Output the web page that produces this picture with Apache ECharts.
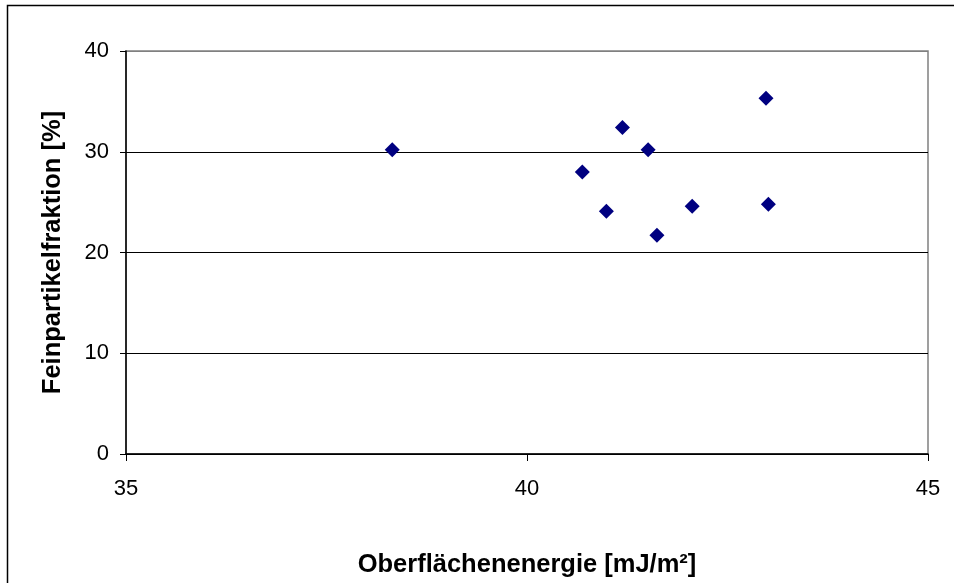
<!DOCTYPE html>
<html>
<head>
<meta charset="utf-8">
<script src="https://cdn.jsdelivr.net/npm/echarts@6/dist/echarts.min.js"></script>
<style>
html,body{margin:0;padding:0;background:#fff;}
#chart{width:954px;height:583px;}
</style>
</head>
<body>
<div id="chart"></div>
<script>
const surfaceEnergy = [38.32, 41.19, 41.51, 40.69, 40.99, 41.62, 42.06, 43.01, 42.98];
const fineFraction  = [30.2, 32.4, 30.2, 28.0, 24.1, 21.7, 24.6, 24.8, 35.3];
const xTicks = [35, 40, 45];
const yTicks = [0, 10, 20, 30, 40];
const xTitle = 'Oberflächenenergie [mJ/m²]';
const yTitle = 'Feinpartikelfraktion [%]';

const points = surfaceEnergy.map((x, i) => [x, fineFraction[i]]);
const chart = echarts.init(document.getElementById('chart'), null, {renderer: 'canvas'});
chart.setOption({
  animation: false,
  backgroundColor: '#fff',
  graphic: [{
    type: 'rect', silent: true, z: 100,
    shape: {x: 7.5, y: 5.5, width: 1000, height: 1000},
    style: {fill: 'none', stroke: '#000', lineWidth: 1.5}
  }],
  grid: {left: 126, right: 26, top: 51, bottom: 120, show: true, borderColor: '#808080', borderWidth: 1.5},
  xAxis: {
    type: 'value', min: xTicks[0], max: xTicks[xTicks.length - 1], interval: 5,
    name: xTitle, nameLocation: 'middle', nameGap: 98,
    nameTextStyle: {fontFamily: 'Liberation Sans', fontWeight: 'bold', fontSize: 25.5, color: '#000'},
    axisLine: {show: true, onZero: false, lineStyle: {color: '#000', width: 1.5}},
    axisTick: {show: true, length: 7, lineStyle: {color: '#000'}},
    axisLabel: {fontFamily: 'Liberation Sans', fontSize: 22, color: '#000', margin: 24},
    splitLine: {show: false}
  },
  yAxis: {
    type: 'value', min: yTicks[0], max: yTicks[yTicks.length - 1], interval: 10,
    name: yTitle, nameLocation: 'middle', nameGap: 60, nameRotate: 90,
    nameTextStyle: {fontFamily: 'Liberation Sans', fontWeight: 'bold', fontSize: 25.5, color: '#000'},
    axisLine: {show: true, lineStyle: {color: '#000', width: 1.5}},
    axisTick: {show: true, length: 6, lineStyle: {color: '#000'}},
    axisLabel: {fontFamily: 'Liberation Sans', fontSize: 22, color: '#000', margin: 17},
    splitLine: {show: true, lineStyle: {color: ['#000', '#000', '#000', '#000', '#808080'], width: 1}}
  },
  series: [{
    type: 'scatter',
    data: points,
    symbol: 'diamond',
    symbolSize: 15,
    itemStyle: {color: '#000080', opacity: 1}
  }]
});
</script>
</body>
</html>
